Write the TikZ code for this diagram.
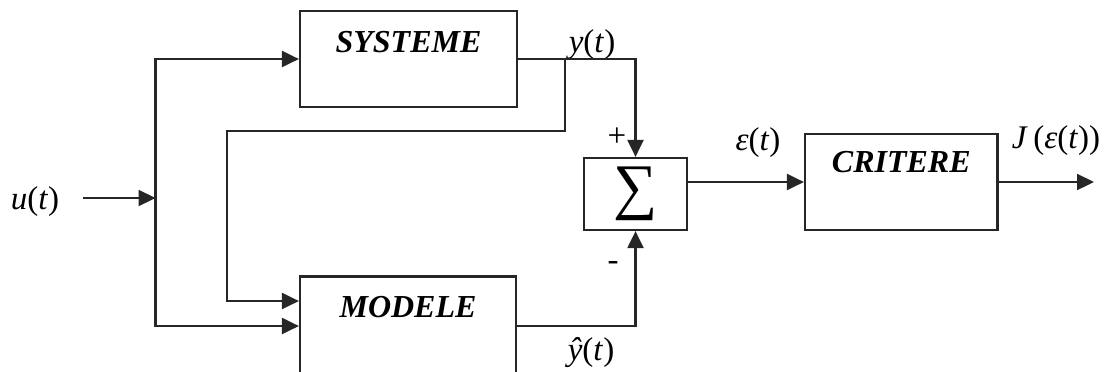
\documentclass[tikz,border=0pt]{standalone}
\usepackage{fontspec}
\setmainfont{Liberation Serif}
\usetikzlibrary{arrows.meta, positioning, calc}
\definecolor{cline}{HTML}{262626}
\tikzset{
  every picture/.style={line width=1.1pt},
  blk/.style={draw=cline, minimum width=#1, minimum height=48pt, inner sep=0pt},
  blktext/.style={font=\fontsize{16}{19}\selectfont\bfseries\itshape, inner sep=0pt, anchor=north, yshift=-10pt},
  sig/.style={font=\fontsize{16.5}{19}\selectfont, inner sep=0pt, anchor=base},
  arr/.style={draw=cline, -{Triangle[length=8.5pt, width=8pt]}},
}

\begin{document}
\begin{tikzpicture}[x=0.5pt, y=-0.5pt]
  \useasboundingbox (0,0) rectangle (1111,371);
  % blocks
  \node[blk=108.5pt, label={[blktext]north:SYSTEME}] (sys) at (408.5,59) {};
  \node[blk=108pt, minimum height=49.5pt, label={[blktext]north:MODELE}] (mod) at (408,326) {};
  \node[blk=51.5pt, minimum height=36pt, font=\fontsize{31}{36}\selectfont] (sum) at (635.5,194) {\raisebox{-1pt}{∑}\hspace{4pt}};
  \node[blk=96.25pt, label={[blktext, yshift=1.5pt]north:CRITERE}] (crit) at (901.25,182) {};
  % branch points and free ends
  \coordinate (split) at (155.5,198);
  \coordinate (yj) at (565,59);
  \coordinate (fb) at (227,131);
  \coordinate (out) at (1094,182);
  % signals
  \node[sig] (u) at (35,209) {\textit{u}(\textit{t})};
  \node[sig] (ylab) at (592,52) {\textit{y}(\textit{t})};
  \node[sig] (yhat) at (591,360) {\textit{ŷ}(\textit{t})};
  \node[sig] (eps) at (758,150) {\textit{ε}(\textit{t})};
  \node[sig] (jout) at (1056,148) {\textit{J}\,(\textit{ε}(\textit{t}))};
  \node[sig] (plus) at (617,146) {+};
  \node[sig] (minus) at (613,270) {-};
  % wires
  \draw[arr] ($(u.east |- split)+(23,0)$) -- (split);
  \draw[arr] (split) |- (sys.west);
  \draw[arr] (split) |- (mod.west);
  \draw[arr] (sys.east) -| (sum.north);
  \draw[arr] (yj) |- (fb) |- ($(mod.west)+(0,-25)$);
  \draw[arr] (mod.east) -| (sum.south);
  \draw[arr] (sum.east |- crit.west) -- (crit.west);
  \draw[arr] (crit.east) -- (out);
\end{tikzpicture}
\end{document}
